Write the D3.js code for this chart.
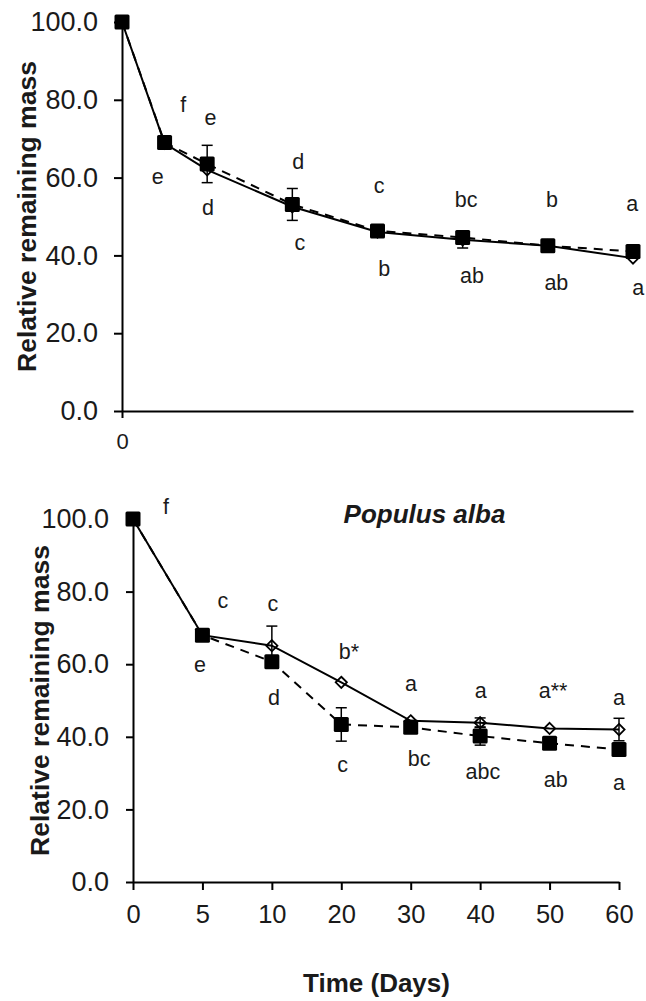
<!DOCTYPE html>
<html>
<head>
<meta charset="utf-8">
<script src="https://cdn.jsdelivr.net/npm/d3@7"></script>
<style>
  html, body { margin: 0; padding: 0; background: #fff; }
  svg { display: block; }
  text { font-family: "Liberation Sans", Arial, sans-serif; fill: #1a1a1a; }
</style>
</head>
<body>
<svg id="chart" width="646" height="1001"></svg>
<script>
// ---------- DATA ----------
const days = [0, 5, 10, 20, 30, 40, 50, 60];
const yTicks = [0, 20, 40, 60, 80, 100];

// Top panel
const topSolid      = [100, 68.8, 62.0, 52.5, 46.0, 44.0, 42.5, 39.3]; // open diamonds, solid line
const topSolidErr   = [0, 0, 0, 0, 0, 2.1, 0, 0];
const topDashed     = [100, 69.0, 63.5, 53.1, 46.3, 44.6, 42.5, 41.0]; // filled squares, dashed line
const topDashedErr  = [0, 0, 4.8, 4.1, 0, 0, 0, 0];
const topLabelText  = ["f", "e", "d", "c", "bc", "b", "a", "e", "d", "c", "b", "ab", "ab", "a"];
const topLabelDay   = [7.2, 10.4, 20.7, 30.2, 40.4, 50.5, 59.9, 4.2, 10.1, 20.9, 30.8, 41.1, 51.0, 60.6];
const topLabelValue = [78.7, 75.3, 64.0, 57.8, 54.2, 54.2, 53.2, 60.2, 52.2, 43.2, 36.5, 34.7, 32.9, 31.6];

// Bottom panel (Populus alba)
const botSolid      = [100, 68.0, 65.1, 55.0, 44.4, 43.9, 42.3, 42.0];
const botSolidErr   = [0, 0, 5.4, 0, 0, 1.3, 0, 3.1];
const botDashed     = [100, 68.0, 60.7, 43.4, 42.6, 40.2, 38.2, 36.5];
const botDashedErr  = [0, 0, 0, 4.6, 0, 2.5, 0, 0];
const botLabelText  = ["f", "c", "c", "b*", "a", "a", "a**", "a", "e", "d", "c", "bc", "abc", "ab", "a"];
const botLabelIdx   = [0.475, 1.296, 2.016, 3.11, 4.004, 5.01, 6.05, 7.0, 0.965, 2.03, 3.02, 4.12, 5.04, 6.09, 7.0];
const botLabelValue = [103.3, 77.4, 76.6, 63.4, 54.5, 52.6, 52.6, 50.7, 59.8, 50.7, 32.2, 33.9, 30.3, 28.1, 27.3];

const yTitle = "Relative remaining mass";
const xTitle = "Time (Days)";
const panelTitle = "Populus alba";

// ---------- DRAW ----------
const svg = d3.select("#chart");
const fmt = d3.format(".1f");

function drawSeries(g, xs, y, solid, solidErr, dashed, dashedErr) {
  const diamond = d3.symbol().type(d3.symbolDiamond2).size(80);
  g.selectAll(null).data(solid).enter().append("path")
    .attr("d", diamond)
    .attr("transform", (d, i) => `translate(${xs[i]},${y(d)})`)
    .attr("fill", "#fff").attr("stroke", "#000").attr("stroke-width", 1.8);

  const line = d3.line().x((d, i) => xs[i]).y(d => y(d));
  g.append("path").datum(solid).attr("d", line)
    .attr("fill", "none").attr("stroke", "#000").attr("stroke-width", 2);
  g.append("path").datum(dashed).attr("d", line)
    .attr("fill", "none").attr("stroke", "#000").attr("stroke-width", 2)
    .attr("stroke-dasharray", "9,7");

  function errBars(vals, errs) {
    vals.forEach((v, i) => {
      if (!errs[i]) return;
      const x = xs[i], y1 = y(v + errs[i]), y2 = y(v - errs[i]);
      g.append("line").attr("x1", x).attr("x2", x).attr("y1", y1).attr("y2", y2)
        .attr("stroke", "#000").attr("stroke-width", 1.5);
      [y1, y2].forEach(yy => g.append("line").attr("x1", x - 5.5).attr("x2", x + 5.5)
        .attr("y1", yy).attr("y2", yy).attr("stroke", "#000").attr("stroke-width", 1.5));
    });
  }
  errBars(solid, solidErr);
  errBars(dashed, dashedErr);

  g.selectAll(null).data(dashed).enter().append("rect")
    .attr("x", (d, i) => xs[i] - 7.5).attr("y", d => y(d) - 7.5)
    .attr("width", 15).attr("height", 15).attr("rx", 1.5).attr("fill", "#000");
}

function styleAxis(a, size) {
  a.selectAll("path.domain").attr("stroke", "#000").attr("stroke-width", 2);
  a.selectAll(".tick line").attr("stroke", "#000").attr("stroke-width", 2);
  a.selectAll(".tick text").attr("font-size", size)
    .attr("font-family", '"Liberation Sans", Arial, sans-serif').attr("fill", "#1a1a1a");
}

// ---- Top panel ----
{
  const x = d3.scaleLinear().domain([0, 60]).range([122, 633]);
  const y = d3.scaleLinear().domain([0, 100]).range([411, 22]);
  const g = svg.append("g");

  const ax = g.append("g").attr("transform", `translate(0,${y(0)})`)
    .call(d3.axisBottom(x).tickValues([0]).tickSize(7).tickSizeOuter(0).tickPadding(15));
  styleAxis(ax, "23px");
  ax.selectAll(".tick text").attr("font-family", '"Open Sans", sans-serif').attr("font-size", "22px");

  const ay = g.append("g").attr("transform", `translate(${x(0)},0)`)
    .call(d3.axisLeft(y).tickValues(yTicks).tickFormat(fmt).tickSize(8).tickSizeOuter(0).tickPadding(16));
  styleAxis(ay, "27px");

  g.append("text").attr("transform", `translate(27,${(y(0) + y(100)) / 2}) rotate(-90)`)
    .attr("text-anchor", "middle").attr("dominant-baseline", "central")
    .attr("font-size", "26.5px").attr("font-weight", "bold").text(yTitle);

  drawSeries(g, days.map(d => x(d)), y, topSolid, topSolidErr, topDashed, topDashedErr);

  g.selectAll(null).data(topLabelText).enter().append("text")
    .attr("x", (d, i) => x(topLabelDay[i])).attr("y", (d, i) => y(topLabelValue[i]))
    .attr("text-anchor", "middle").attr("dominant-baseline", "central")
    .attr("font-size", "21.5px").text(d => d);
}

// ---- Bottom panel ----
{
  const x = d3.scaleLinear().domain([0, days.length - 1]).range([133, 619]);
  const y = d3.scaleLinear().domain([0, 100]).range([882, 519]);
  const g = svg.append("g");

  const ax = g.append("g").attr("transform", `translate(0,${y(0)})`)
    .call(d3.axisBottom(x).tickValues(d3.range(days.length)).tickFormat(i => days[i])
      .tickSize(8).tickSizeOuter(0).tickPadding(15));
  styleAxis(ax, "25.5px");

  const ay = g.append("g").attr("transform", `translate(${x(0)},0)`)
    .call(d3.axisLeft(y).tickValues(yTicks).tickFormat(fmt).tickSize(7).tickSizeOuter(0).tickPadding(17));
  styleAxis(ay, "27px");

  g.append("text").attr("transform", `translate(40,${(y(0) + y(100)) / 2}) rotate(-90)`)
    .attr("text-anchor", "middle").attr("dominant-baseline", "central")
    .attr("font-size", "26.5px").attr("font-weight", "bold").text(yTitle);

  g.append("text").attr("x", 376.5).attr("y", 992)
    .attr("text-anchor", "middle").attr("font-size", "26px").attr("font-weight", "bold").text(xTitle);

  g.append("text").attr("x", 424.5).attr("y", 523)
    .attr("text-anchor", "middle").attr("font-size", "26px").attr("font-weight", "bold")
    .attr("font-style", "italic").text(panelTitle);

  drawSeries(g, days.map((d, i) => x(i)), y, botSolid, botSolidErr, botDashed, botDashedErr);

  g.selectAll(null).data(botLabelText).enter().append("text")
    .attr("x", (d, i) => x(botLabelIdx[i])).attr("y", (d, i) => y(botLabelValue[i]))
    .attr("text-anchor", "middle").attr("dominant-baseline", "central")
    .attr("font-size", "21.5px").text(d => d);
}
</script>
</body>
</html>
